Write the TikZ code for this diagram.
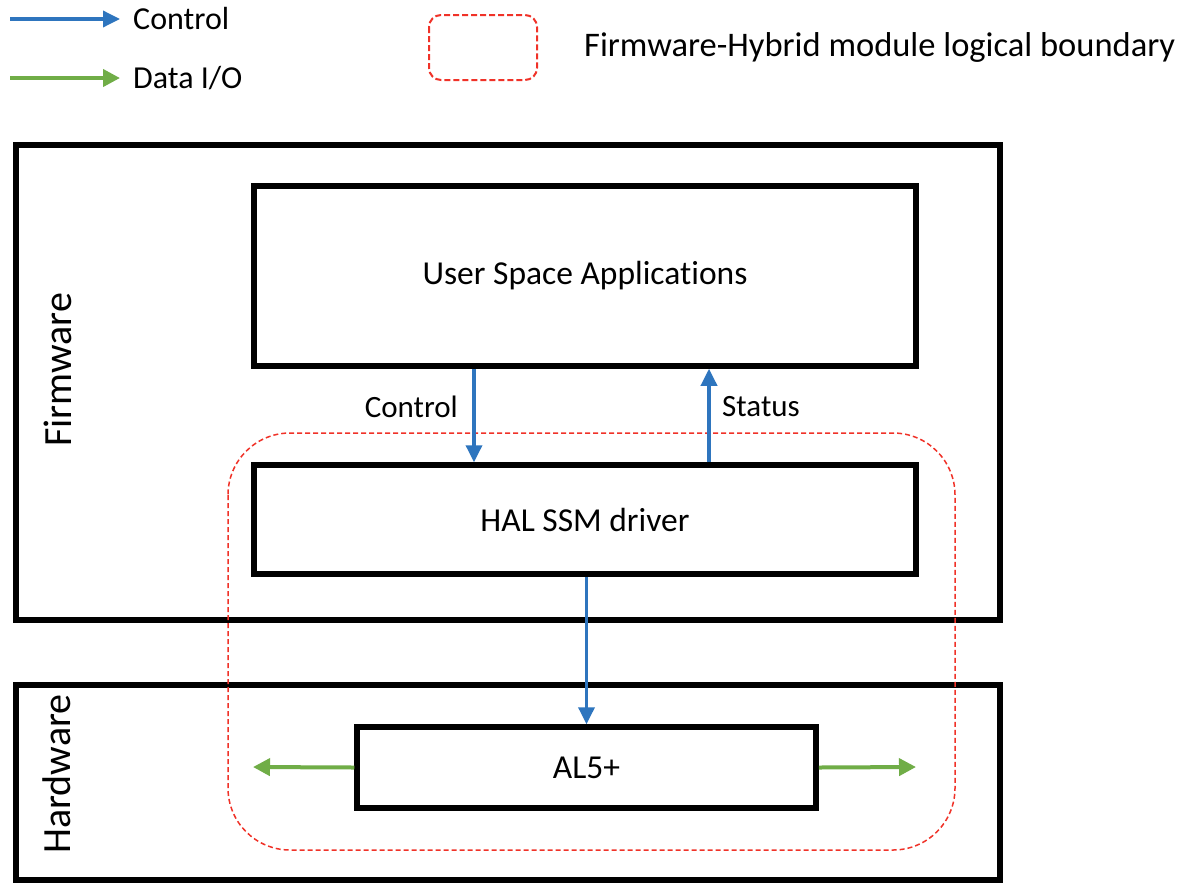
\documentclass[tikz,border=0pt]{standalone}
\usepackage{fontspec}
\setmainfont[Ligatures=CommonOff]{Carlito}
\usetikzlibrary{arrows.meta}
\definecolor{ctrlblue}{RGB}{46,117,190}
\definecolor{datagreen}{RGB}{112,173,71}
\definecolor{bndred}{RGB}{240,50,40}
\begin{document}
\begin{tikzpicture}[x=1pt,y=-1pt,
  box/.style={draw,line width=5.5pt,inner sep=0pt,font=\fontsize{33.5}{40}\selectfont},
  lbl/.style={inner sep=0pt,font=\fontsize{31}{37}\selectfont},
  leg/.style={inner sep=0pt,font=\fontsize{32}{38}\selectfont},
  side/.style={inner sep=0pt,rotate=90,font=\fontsize{40}{48}\selectfont},
  ctrl/.style={draw=ctrlblue,line width=3.5pt,-{Triangle[length=17pt,width=16pt]}},
  data/.style={draw=datagreen,line width=4pt,-{Triangle[length=17pt,width=17pt]}},
  bnd/.style={draw=bndred,line width=1.5pt,dash pattern=on 5pt off 3pt,rounded corners=62pt},
  bndleg/.style={draw=bndred,line width=2pt,dash pattern=on 6pt off 3pt,rounded corners=12pt}]
\useasboundingbox[fill=white] (0,0) rectangle (1190,884);

% legend
\coordinate (lc1) at (10,19);
\coordinate (lc2) at (120,19);
\coordinate (ld1) at (10,78);
\coordinate (ld2) at (120,78);
\draw[ctrl] (lc1) -- (lc2);
\draw[data] (ld1) -- (ld2);
\node[leg,anchor=west] (lctrl) at (133,19) {Control};
\node[leg,anchor=west] (ldata) at (133,78) {Data I/O};
\draw[bndleg] (429,15) rectangle (537,80);
\node[inner sep=0pt,anchor=west,font=\fontsize{34.5}{41}\selectfont] (lbnd) at (584,47) {Firmware-Hybrid module logical boundary};

% layer boxes
\node[box,minimum width=984pt,minimum height=475pt] (fw) at (508,382.5) {};
\node[box,minimum width=984pt,minimum height=195pt] (hw) at (508,782.5) {};
\node[side] (fwl) at (58,370) {Firmware};
\node[side] (hwl) at (57,774) {Hardware};

% inner boxes
\node[box,minimum width=662pt,minimum height=180pt] (user) at (585,276) {User Space Applications};
\node[box,minimum width=662pt,minimum height=109pt] (hal) at (585,519.5) {HAL SSM driver};
\node[box,minimum width=459pt,minimum height=81pt] (al) at (586.5,767.5) {AL5+};

% boundary
\draw[bnd] (228,433) rectangle (955,850);

% connectors
\draw[ctrl] ([xshift=-111pt]user.south) -- ([xshift=-111pt]hal.north);
\draw[ctrl] ([xshift=124pt]hal.north) -- ([xshift=124pt]user.south);
\node[lbl,anchor=east] (cl) at (458,407) {Control};
\node[lbl,anchor=west] (sl) at (722,407) {Status};
\draw[ctrl] (hal.south -| al.north) -- (al.north);
\coordinate (gl) at (253,767);
\coordinate (gr) at (916,767);
\draw[data] (al.west) -- (gl);
\draw[data] (al.east) -- (gr);
\end{tikzpicture}
\end{document}
